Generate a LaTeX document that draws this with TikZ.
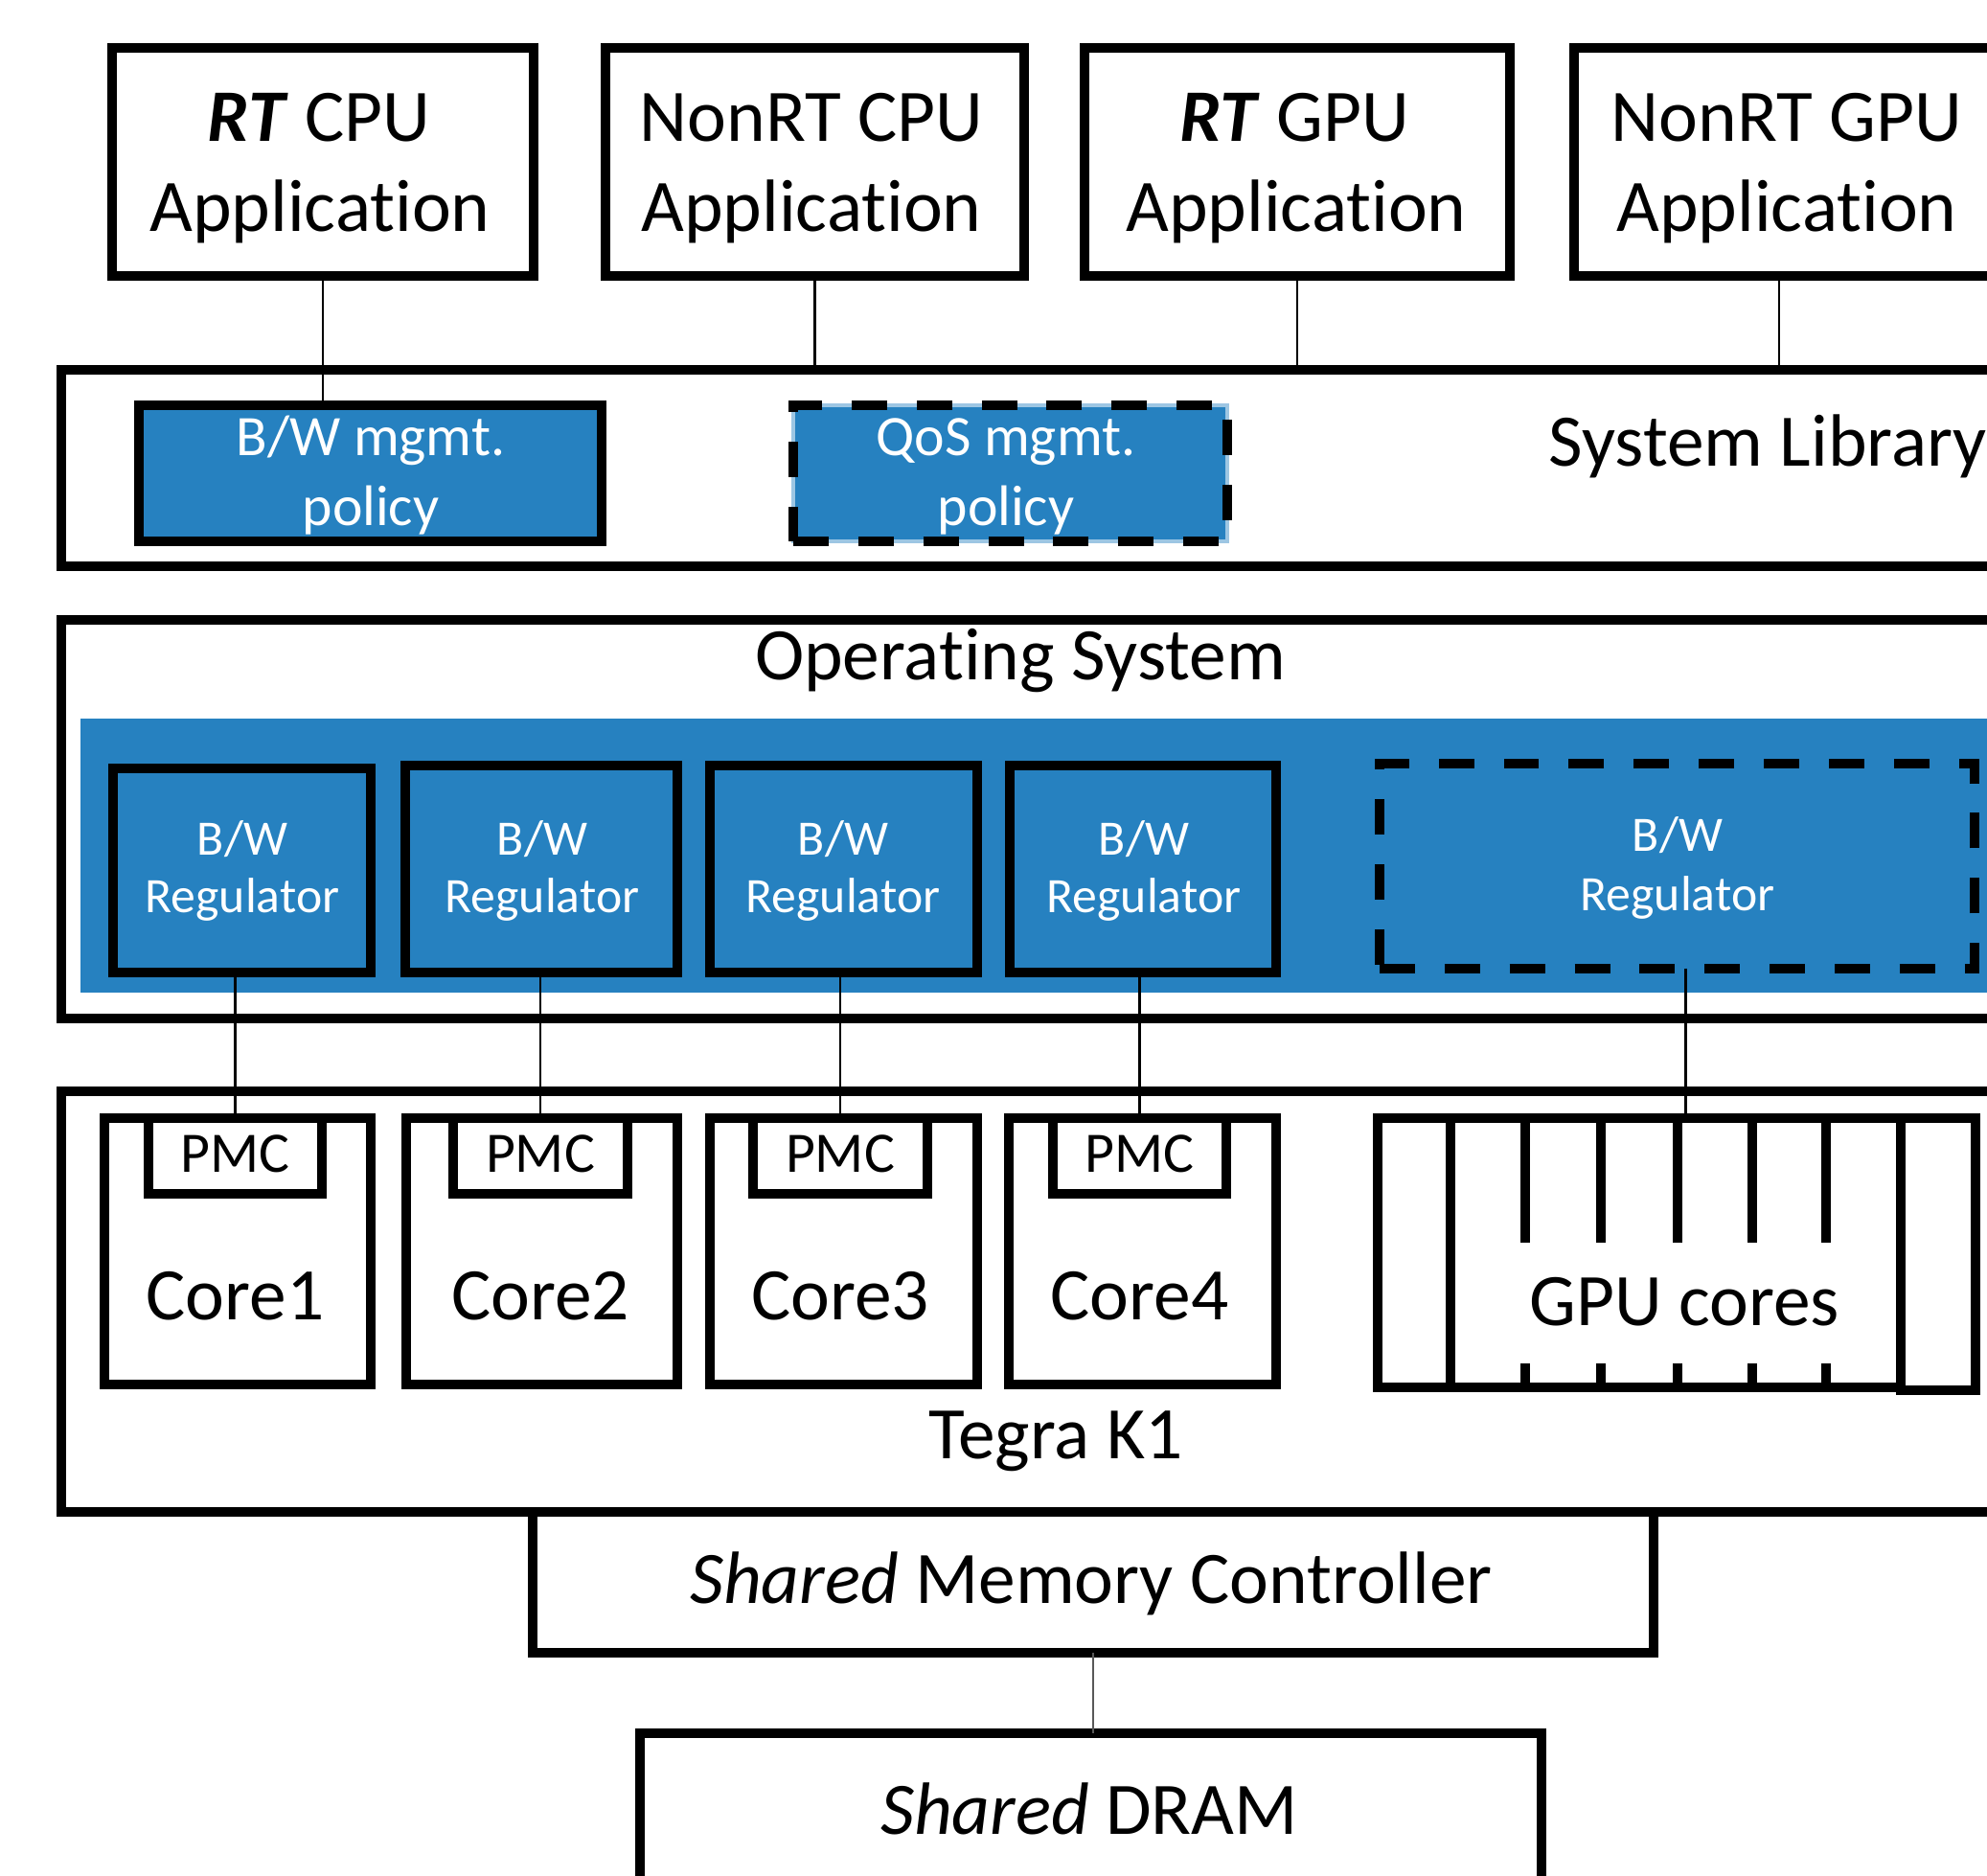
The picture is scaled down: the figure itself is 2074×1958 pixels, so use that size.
\documentclass[tikz,border=0pt]{standalone}
\usepackage{fontspec}
\setmainfont{Carlito}[Ligatures={NoCommon,NoRare}, Contextuals=NoAlternate, RawFeature={-liga}]
\usetikzlibrary{fit,calc}
\definecolor{regblue}{RGB}{38,129,192}
\tikzset{
  thickbox/.style={draw=black, line width=2.6pt, inner sep=0pt, outer sep=0pt},
  solidbox/.style={thickbox, fill=white},
  bluebox/.style={thickbox, fill=regblue},
  dashbox/.style={bluebox, dash pattern=on 10.5pt off 8.8pt},
  bandfill/.style={fill=regblue, draw=none, inner sep=0pt, outer sep=0pt},
  wire/.style={line width=0.6pt, draw=black},
  gpuline/.style={line width=2.6pt, draw=black},
  biglbl/.style={anchor=base, inner sep=0pt, font=\fontsize{22}{26.8}\selectfont},
  midlbl/.style={anchor=base, inner sep=0pt, font=\fontsize{17}{20.7}\selectfont},
  smalllbl/.style={anchor=base, inner sep=0pt, text=white, font=\fontsize{14.7}{17.9}\selectfont},
}
\begin{document}
\begin{tikzpicture}[x=0.01cm, y=-0.01cm]
\useasboundingbox (0,0) rectangle (2074,1958);
\clip (0,0) rectangle (2074,1958);
\fill[white] (0,0) rectangle (2074,1958);

% ---------------- applications ----------------
\node[solidbox, fit={(117,50) (557,288)}] (app1) {};
\node[solidbox, fit={(632,50) (1069,288)}] (app2) {};
\node[solidbox, fit={(1132,50) (1576,288)}] (app3) {};
\node[solidbox, fit={(1643,50) (2087,288)}] (app4) {};
\node[biglbl] (app1a) at (333,148) {\textbf{\textit{RT}} CPU};
\node[biglbl] (app1b) at (334,242) {Application};
\node[biglbl] (app2a) at (847,148) {NonRT CPU};
\node[biglbl] (app2b) at (847,242) {Application};
\node[biglbl] (app3a) at (1351,148) {\textbf{\textit{RT}} GPU};
\node[biglbl] (app3b) at (1353,242) {Application};
\node[biglbl] (app4a) at (1865,148) {NonRT GPU};
\node[biglbl] (app4b) at (1865,242) {Application};

% ---------------- system library ----------------
\node[solidbox, fit={(64,386) (2130,591)}] (syslib) {};
\node[biglbl, anchor=base west] (syslibt) at (1616,487) {System Library};

\node[bluebox, fit={(145,423) (628,565)}] (bwpol) {};
\node[midlbl, text=white] (bwpola) at (387,476) {B/W mgmt.};
\node[midlbl, text=white] (bwpolb) at (387,549) {policy};

\node[bluebox, draw=regblue!45, line width=1.4pt, fit={(828,423) (1281,565)}] (qosbg) {};
\node[dashbox, fill=none, fit={(828,423) (1281,565)}] (qospol) {};
\node[midlbl, text=white] (qospola) at (1050,476) {QoS mgmt.};
\node[midlbl, text=white] (qospolb) at (1050,549) {policy};

\draw[wire] (app1.south) -- (app1.south |- bwpol.north);
\draw[wire] (app2.south) -- (app2.south |- syslib.north);
\draw[wire] (app3.south) -- (app3.south |- syslib.north);
\draw[wire] ($(app4.south)+(-8,0)$) -- ($(app4.south |- syslib.north)+(-8,0)$);

% ---------------- operating system ----------------
\node[solidbox, fit={(64,647) (2130,1063)}] (os) {};
\node[biglbl] (ost) at (1065,710) {Operating System};
\node[bandfill, fit={(84,750) (2130,1036)}] (band) {};

\node[bluebox, fit={(118,802) (387,1015)}] (reg1) {};
\node[bluebox, fit={(423,799) (707,1015)}] (reg2) {};
\node[bluebox, fit={(741,799) (1020,1015)}] (reg3) {};
\node[bluebox, fit={(1054,799) (1332,1015)}] (reg4) {};
\node[dashbox, fit={(1440,797) (2061,1011)}] (reg5) {};
\foreach \r/\cx/\ya/\yb in {reg1/253/893/953, reg2/566/893/953, reg3/880/893/953,
                             reg4/1194/893/953, reg5/1751/889/951} {
  \node[smalllbl] (\r a) at (\cx,\ya) {B/W};
  \node[smalllbl] (\r b) at (\cx,\yb) {Regulator};
}

% ---------------- Tegra K1 ----------------
\node[solidbox, fit={(64,1139) (2130,1578)}] (tegra) {};
\node[biglbl] (tegrat) at (1102,1523) {Tegra K1};

\node[solidbox, fit={(109,1167) (387,1445)}] (core1) {};
\node[solidbox, fit={(424,1167) (707,1445)}] (core2) {};
\node[solidbox, fit={(741,1167) (1020,1445)}] (core3) {};
\node[solidbox, fit={(1053,1167) (1332,1445)}] (core4) {};
\node[solidbox, fit={(155,1167) (336,1246)}] (pmc1) {};
\node[solidbox, fit={(473,1167) (655,1246)}] (pmc2) {};
\node[solidbox, fit={(786,1167) (968,1246)}] (pmc3) {};
\node[solidbox, fit={(1099,1167) (1280,1246)}] (pmc4) {};
\foreach \i in {1,2,3,4} {
  \node[midlbl] (pmc\i t) at (pmc\i.center |- 0,1224) {PMC};
  \node[biglbl] (core\i t) at (pmc\i.center |- 0,1377) {Core\i};
}

% GPU block with its core lanes
\node[solidbox, fit={(1438,1167) (1984,1448)}] (gpu) {};
\node[solidbox, fit={(1984,1167) (2062,1451)}] (gpucol) {};
\draw[gpuline] (1514,1167) -- (1514,1448);
\foreach \x in {1592,1671,1751,1829,1906} {
  \draw[gpuline] (\x,1167) -- (\x,1297);
  \draw[gpuline] (\x,1423) -- (\x,1448);
}
\node[biglbl] (gput) at (1758,1383) {GPU cores};

\foreach \i in {1,2,3,4} {
  \draw[wire] (pmc\i.north) -- (pmc\i.north |- reg\i.south);
}
\draw[wire] ($(reg5.south)+(9,0)$) -- ($(reg5.south |- gpu.north)+(9,0)$);

% ---------------- memory ----------------
\node[solidbox, fit={(556,1578) (1726,1725)}] (smc) {};
\node[biglbl] (smct) at (1139,1673) {\textit{Shared} Memory Controller};
\node[solidbox, fit={(668,1809) (1609,2060)}] (dram) {};
\node[biglbl] (dramt) at (1137,1914) {\textit{Shared} DRAM};
\draw[wire, draw=black!65] (smc.south) -- (smc.south |- dram.north);
\end{tikzpicture}
\end{document}
